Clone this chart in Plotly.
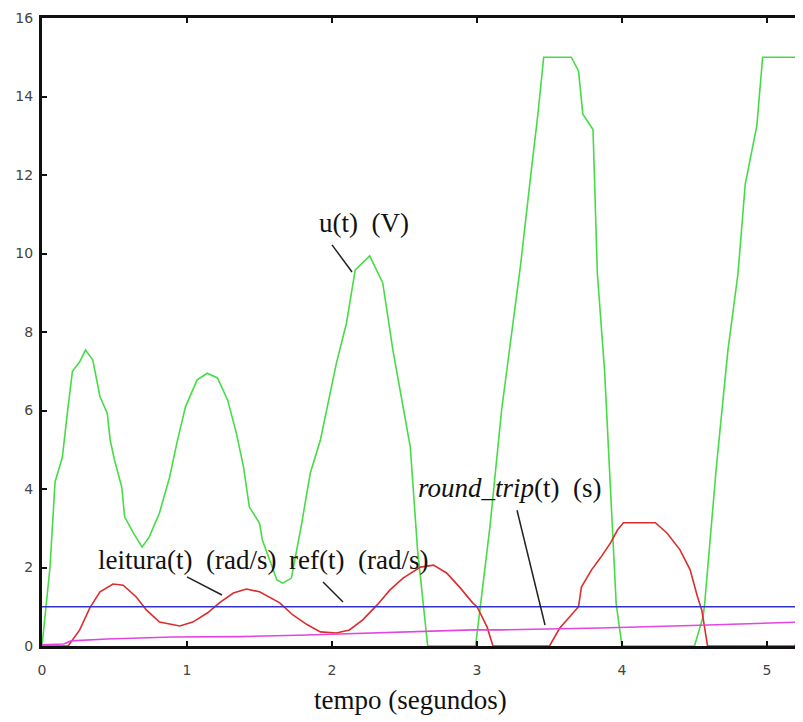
import plotly.graph_objects as go

# ---- data ----
t_u = [0.00, 0.055, 0.09, 0.14, 0.18, 0.21, 0.26, 0.30, 0.35, 0.40, 0.45, 0.47, 0.50, 0.55, 0.57,
       0.63, 0.69, 0.74, 0.81, 0.88, 0.93, 0.99, 1.07, 1.14, 1.21, 1.28, 1.34, 1.39, 1.43, 1.50,
       1.52, 1.62, 1.66, 1.72, 1.79, 1.85, 1.92, 2.03, 2.10, 2.16, 2.26, 2.35, 2.42, 2.49, 2.54,
       2.59, 2.66, 2.99, 3.09, 3.17, 3.24, 3.30, 3.37, 3.42, 3.46, 3.65, 3.70, 3.73, 3.80, 3.83,
       3.88, 3.92, 3.96, 4.00, 4.50, 4.56, 4.57, 4.65, 4.73, 4.80, 4.85, 4.93, 4.97, 5.25]
u_vals = [0.0, 2.0, 4.18, 4.8, 6.1, 7.0, 7.24, 7.54, 7.29, 6.35, 5.93, 5.25, 4.74, 4.05, 3.29,
          2.88, 2.52, 2.78, 3.39, 4.3, 5.17, 6.1, 6.78, 6.95, 6.83, 6.27, 5.43, 4.56, 3.54, 3.13,
          2.7, 1.68, 1.6, 1.73, 3.1, 4.4, 5.25, 7.2, 8.23, 9.58, 9.94, 9.25, 7.54, 6.09, 5.07,
          2.45, 0.0, 0.0, 3.06, 6.02, 8.0, 9.69, 11.97, 13.55, 15.0, 15.0, 14.65, 13.55, 13.16, 9.49,
          7.01, 4.04, 1.07, 0.0, 0.0, 0.76, 1.07, 4.53, 7.52, 9.49, 11.77, 13.26, 15.0, 15.0]

t_leit = [0.00, 0.18, 0.26, 0.33, 0.40, 0.49, 0.56, 0.65, 0.72, 0.81, 0.95, 1.04, 1.14, 1.23,
          1.32, 1.41, 1.50, 1.64, 1.73, 1.83, 1.92, 2.03, 2.12, 2.21, 2.31, 2.40, 2.49, 2.61,
          2.70, 2.79, 2.88, 2.97, 3.00, 3.07, 3.11, 3.50, 3.57, 3.64, 3.70, 3.72, 3.79, 3.85,
          3.92, 3.97, 4.01, 4.23, 4.31, 4.40, 4.47, 4.52, 4.55, 4.59, 5.19, 5.25]
leit_vals = [0.0, 0.0, 0.41, 0.97, 1.38, 1.58, 1.55, 1.25, 0.92, 0.61, 0.51, 0.61, 0.84, 1.12,
             1.35, 1.45, 1.38, 1.10, 0.79, 0.54, 0.36, 0.33, 0.41, 0.66, 1.04, 1.43, 1.73, 2.01,
             2.06, 1.86, 1.50, 1.10, 1.00, 0.48, 0.0, 0.0, 0.45, 0.75, 1.0, 1.5, 1.94, 2.24,
             2.62, 2.96, 3.14, 3.14, 2.88, 2.45, 1.94, 1.26, 0.92, 0.0, 0.0, 0.33]

t_ref = [0.0, 5.25]
ref_vals = [1.0, 1.0]

t_rt = [0.0, 0.15, 0.20, 0.45, 0.90, 1.36, 1.83, 2.28, 2.97, 3.16, 3.85, 4.54, 5.25]
rt_vals = [0.03, 0.05, 0.13, 0.18, 0.23, 0.24, 0.28, 0.33, 0.41, 0.41, 0.46, 0.53, 0.61]

x_ticks = [0, 1, 2, 3, 4, 5]
y_ticks = [0, 2, 4, 6, 8, 10, 12, 14, 16]

# ---- figure ----
fig = go.Figure()
fig.add_trace(go.Scatter(x=t_u, y=u_vals, mode="lines", name="u(t) (V)",
                         line=dict(color="rgb(70,220,70)", width=1.6)))
fig.add_trace(go.Scatter(x=t_leit, y=leit_vals, mode="lines", name="leitura(t) (rad/s)",
                         line=dict(color="rgb(220,45,45)", width=1.6)))
fig.add_trace(go.Scatter(x=t_ref, y=ref_vals, mode="lines", name="ref(t) (rad/s)",
                         line=dict(color="rgb(50,50,200)", width=1.4)))
fig.add_trace(go.Scatter(x=t_rt, y=rt_vals, mode="lines", name="round_trip(t) (s)",
                         line=dict(color="rgb(225,70,225)", width=1.6)))

serif = dict(family="Liberation Serif, Times New Roman, serif", size=27, color="#111")

labels = [
    ("u(t)  (V)", 2.22, 10.78),
    ("leitura(t)  (rad/s)", 1.0, 2.2),
    ("ref(t)  (rad/s)", 2.186, 2.2),
    ("<i>round_trip</i>(t)  (s)", 3.228, 4.03),
]
for txt, x, y in labels:
    fig.add_annotation(x=x, y=y, xref="x", yref="y", text=txt, showarrow=False,
                       font=serif, xanchor="center", yanchor="middle")

callouts = [
    (2.0, 10.22, 2.138, 9.53),
    (1.0, 1.76, 1.241, 1.30),
    (1.938, 1.63, 2.076, 1.12),
    (3.276, 3.46, 3.469, 0.535),
]
for x0, y0, x1, y1 in callouts:
    fig.add_shape(type="line", x0=x0, y0=y0, x1=x1, y1=y1, xref="x", yref="y",
                  line=dict(color="#222", width=1.5))

fig.add_annotation(x=2.54, y=-0.086, xref="x", yref="paper", text="tempo (segundos)",
                   showarrow=False, font=serif, xanchor="center", yanchor="middle")

tickfont = dict(family="DejaVu Sans, Verdana, sans-serif", size=14, color="#444")

fig.update_layout(
    width=795, height=714,
    margin=dict(l=34, r=0, t=10, b=76),
    paper_bgcolor="white", plot_bgcolor="white",
    showlegend=False,
    xaxis=dict(range=[0, 761 / 145], tickvals=x_ticks, ticktext=[str(v) for v in x_ticks],
               showgrid=False, zeroline=False, showline=True, linecolor="#111", linewidth=3,
               ticks="inside", ticklen=5, tickwidth=2, tickcolor="#111", mirror="ticks",
               tickfont=tickfont, ticklabelstandoff=9),
    yaxis=dict(range=[0, 16], tickvals=y_ticks, ticktext=[str(v) for v in y_ticks],
               showgrid=False, zeroline=False, showline=True, linecolor="#111", linewidth=3,
               ticks="inside", ticklen=5, tickwidth=2, tickcolor="#111", mirror=False,
               tickfont=tickfont, ticklabelstandoff=3),
)

fig.write_html("out.html")
